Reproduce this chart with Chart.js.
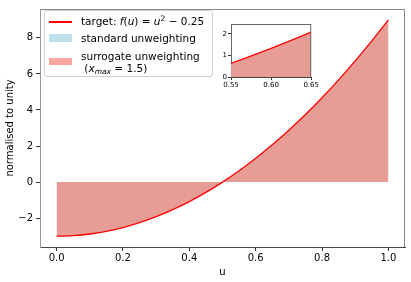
<!DOCTYPE html>
<html>
<head>
<meta charset="utf-8">
<script src="https://cdn.jsdelivr.net/npm/chart.js@4"></script>
<style>
  html, body { margin: 0; padding: 0; background: #fff; }
  #wrap { position: relative; width: 411px; height: 282px; font-family: "DejaVu Sans", sans-serif; }
  #main { position: absolute; left: 0; top: 0; }
  #inset { position: absolute; left: 215px; top: 18px; }
  #legend { position: absolute; left: 44px; top: 10px; width: 167px; height: 65px;
    border: 1px solid #d0d0d0; border-radius: 3px; background: rgba(255,255,255,0.8);
    font-size: 10.5px; color: #000; }
  .sw { position: absolute; left: 4px; width: 23px; }
  .txt { position: absolute; left: 36px; line-height: 12px; white-space: nowrap; }
  i { font-style: italic; }
  sup { font-size: 7.5px; vertical-align: 4px; line-height: 0; }
  sub { font-size: 7.5px; vertical-align: -2px; line-height: 0; }
</style>
</head>
<body>
<div id="wrap">
  <canvas id="main" width="411" height="282"></canvas>
  <canvas id="inset" width="105" height="76"></canvas>
  <div id="legend">
    <div class="sw" style="top:10px;height:1.5px;background:#ff0000;"></div>
    <div class="txt" style="top:4px;">target: <i>f</i>(<i>u</i>) = <i>u</i><sup>2</sup> − 0.25</div>
    <div class="sw" style="top:23px;height:8px;background:rgba(173,216,230,0.8);"></div>
    <div class="txt" style="top:21px;">standard unweighting</div>
    <div class="sw" style="top:47px;height:7px;background:rgba(250,128,114,0.7);"></div>
    <div class="txt" style="top:39px;">surrogate unweighting</div>
    <div class="txt" style="top:51px;">&nbsp;(<i>x<sub>max</sub></i> = 1.5)</div>
  </div>
</div>
<script>
// values
const uValues = [0.00, 0.05, 0.10, 0.15, 0.20, 0.25, 0.30, 0.35, 0.40, 0.45, 0.50,
                 0.55, 0.60, 0.65, 0.70, 0.75, 0.80, 0.85, 0.90, 0.95, 1.00];
const targetValues = [-3.00, -2.97, -2.88, -2.73, -2.52, -2.25, -1.92, -1.53, -1.08, -0.57, 0.00,
                      0.63, 1.32, 2.07, 2.88, 3.75, 4.68, 5.67, 6.72, 7.83, 9.00];
const standardValues = targetValues.slice();
const surrogateValues = targetValues.slice();
const xTicks = [0.0, 0.2, 0.4, 0.6, 0.8, 1.0];
const yTicks = [-2, 0, 2, 4, 6, 8];
const insetXTicks = [0.55, 0.60, 0.65];
const insetYTicks = [0, 1, 2];

const pts = arr => uValues.map((x, i) => ({ x: x, y: arr[i] }));
Chart.defaults.font.family = "DejaVu Sans";
Chart.defaults.color = "#000";

function makeDatasets() {
  return [
    { label: 'target', data: pts(targetValues), borderColor: '#ff0000', borderWidth: 1.3,
      pointRadius: 0, fill: false, cubicInterpolationMode: 'monotone', order: 0 },
    { label: 'surrogate unweighting', data: pts(surrogateValues), borderColor: 'transparent', borderWidth: 0,
      backgroundColor: 'rgba(250,128,114,0.7)', pointRadius: 0, fill: 'origin',
      cubicInterpolationMode: 'monotone', order: 1 },
    { label: 'standard unweighting', data: pts(standardValues), borderColor: 'transparent', borderWidth: 0,
      backgroundColor: 'rgba(173,216,230,0.8)', pointRadius: 0, fill: 'origin',
      cubicInterpolationMode: 'monotone', order: 2 }
  ];
}

const fixTicks = arr => scale => { scale.ticks = arr.map(v => ({ value: v })); };

function framePlugin(sideColor) {
  return {
    id: 'frame',
    afterDraw(chart) {
      const { ctx, chartArea: a } = chart;
      ctx.save();
      ctx.strokeStyle = sideColor; ctx.lineWidth = 1;
      ctx.beginPath();
      ctx.moveTo(a.left, a.top + 0.5); ctx.lineTo(a.right, a.top + 0.5);
      ctx.moveTo(a.right - 0.5, a.top); ctx.lineTo(a.right - 0.5, a.bottom);
      ctx.stroke();
      ctx.restore();
    }
  };
}

new Chart(document.getElementById('main'), {
  type: 'line',
  data: { datasets: makeDatasets() },
  options: {
    responsive: false, animation: false, events: [],
    layout: { padding: { left: 0, right: 6, top: 5, bottom: 0 } },
    plugins: { legend: { display: false }, tooltip: { enabled: false } },
    scales: {
      x: {
        type: 'linear', min: -0.05, max: 1.05,
        afterBuildTicks: fixTicks(xTicks),
        afterFit: s => { s.height = 35; },
        grid: { drawOnChartArea: false, drawTicks: true, tickLength: 4, tickColor: '#333' },
        border: { display: true, color: '#444', width: 1 },
        ticks: { font: { size: 10 }, padding: 1, maxRotation: 0, callback: v => v.toFixed(1) },
        title: { display: true, text: 'u', font: { size: 10 }, padding: { top: 0, bottom: 4 } }
      },
      y: {
        type: 'linear', min: -3.6, max: 9.6,
        afterBuildTicks: fixTicks(yTicks),
        afterFit: s => { s.width = 40; },
        grid: { drawOnChartArea: false, drawTicks: true, tickLength: 4, tickColor: '#333' },
        border: { display: true, color: '#999', width: 1 },
        ticks: { font: { size: 10 }, padding: 3, callback: v => (v < 0 ? '\u2212' + Math.abs(v) : String(v)) },
        title: { display: true, text: 'normalised to unity', font: { size: 10 }, padding: { top: 4, bottom: 0 } }
      }
    }
  },
  plugins: [framePlugin('#888')]
});

new Chart(document.getElementById('inset'), {
  type: 'line',
  data: { datasets: makeDatasets() },
  options: {
    responsive: false, animation: false, events: [],
    layout: { padding: { left: 0, right: 8, top: 6, bottom: 0 } },
    plugins: { legend: { display: false }, tooltip: { enabled: false } },
    scales: {
      x: {
        type: 'linear', min: 0.55, max: 0.65,
        afterBuildTicks: fixTicks(insetXTicks),
        afterFit: s => { s.height = 17; },
        grid: { drawOnChartArea: false, drawTicks: true, tickLength: 3, tickColor: '#333' },
        border: { display: true, color: '#444', width: 1 },
        ticks: { font: { size: 7 }, padding: 1, maxRotation: 0, autoSkip: false, callback: v => v.toFixed(2) }
      },
      y: {
        type: 'linear', min: 0, max: 2.45,
        afterBuildTicks: fixTicks(insetYTicks),
        afterFit: s => { s.width = 16; },
        grid: { drawOnChartArea: false, drawTicks: true, tickLength: 3, tickColor: '#333' },
        border: { display: true, color: '#666', width: 1 },
        ticks: { font: { size: 7 }, padding: 1, autoSkip: false, callback: v => String(v) }
      }
    }
  },
  plugins: [{
    id: 'bg',
    beforeDraw(chart) {
      const { ctx, chartArea: a } = chart;
      ctx.save(); ctx.fillStyle = '#fff';
      ctx.fillRect(a.left, a.top, a.right - a.left, a.bottom - a.top);
      ctx.restore();
    }
  }, framePlugin('#666')]
});
</script>
</body>
</html>
